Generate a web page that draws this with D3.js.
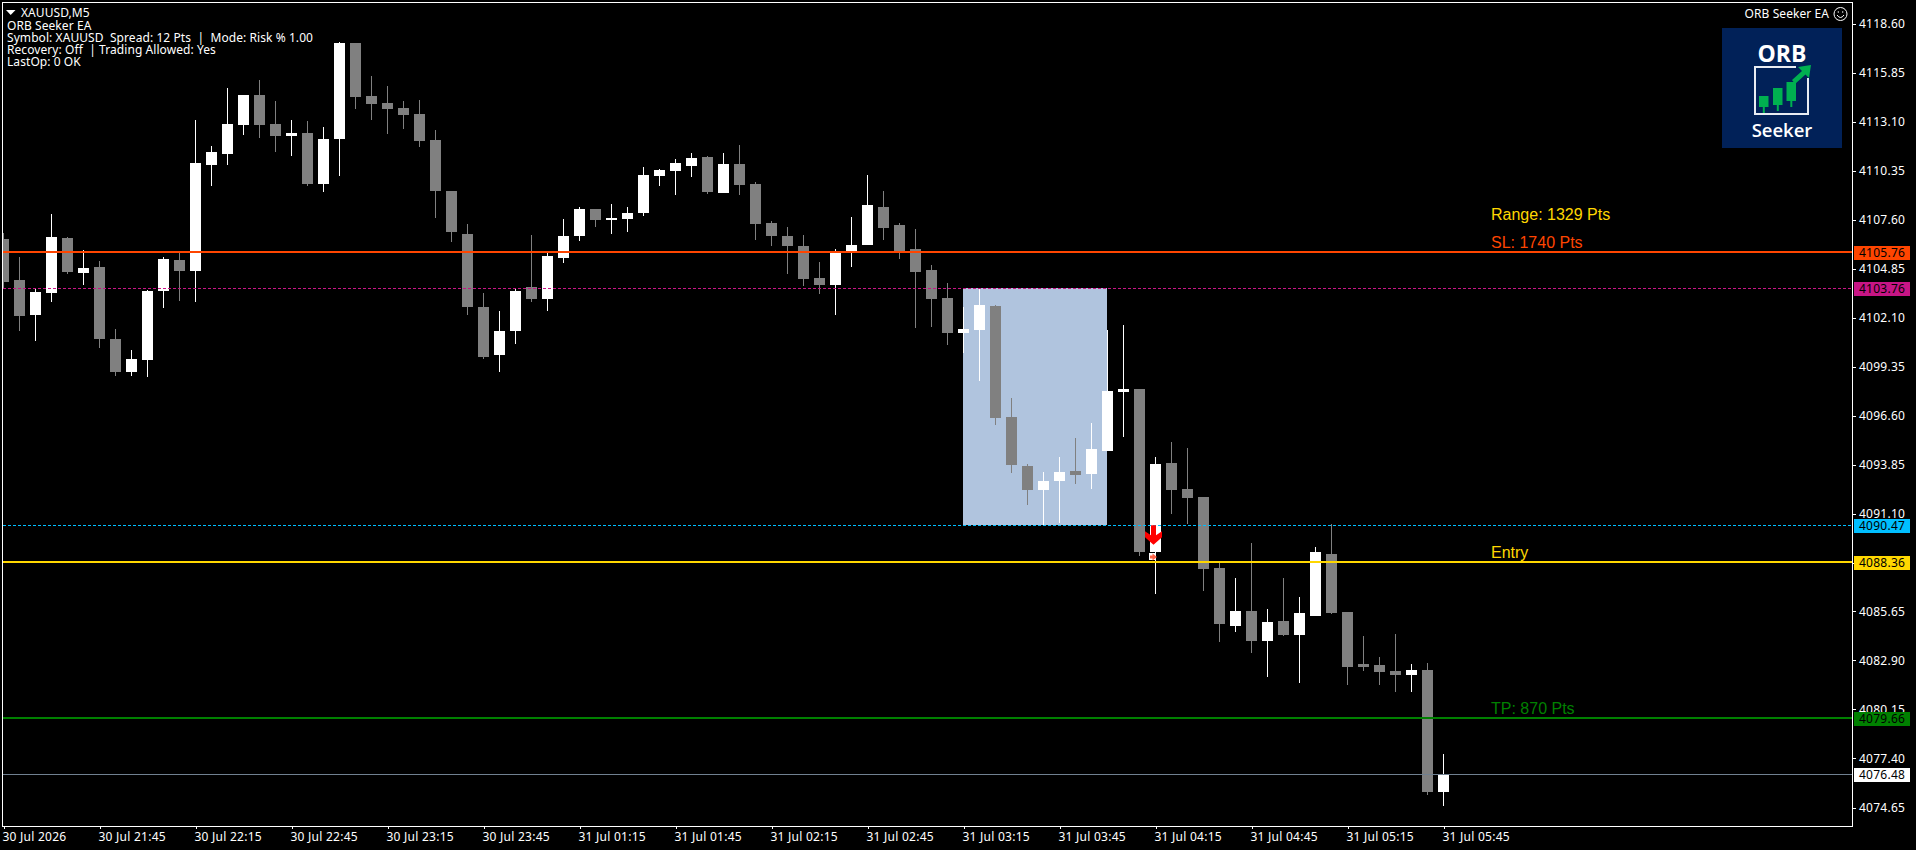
<!DOCTYPE html>
<html>
<head>
<meta charset="utf-8">
<script src="https://cdn.jsdelivr.net/npm/d3@7"></script>
<style>
html,body{margin:0;padding:0;background:#000;overflow:hidden}
svg{display:block;position:absolute;left:0;top:0}
.ui{font-family:"Noto Sans","DejaVu Sans",sans-serif;font-size:12px;fill:#fff;letter-spacing:.07px}
.ax{letter-spacing:.25px}
.lv{font-family:"Liberation Sans",Arial,sans-serif;font-size:16px}
</style>
</head>
<body>
<script>
const opens = [4106.50,4104.22,4102.26,4103.49,4106.58,4104.62,4104.95,4100.92,4099.07,4099.74,4103.61,4105.34,4104.73,4110.67,4111.29,4112.91,4114.59,4112.97,4112.29,4112.46,4109.60,4112.13,4117.51,4114.54,4114.14,4113.86,4113.53,4112.07,4109.21,4106.80,
4102.71,4100.02,4101.36,4103.83,4103.16,4105.46,4106.69,4108.20,4107.59,4107.64,4107.98,4110.05,4110.33,4110.61,4111.12,4109.10,4110.72,4109.60,4107.42,4106.69,4106.13,4104.33,4103.94,4105.85,4106.18,4108.31,4107.30,4105.96,4104.78,4103.21,
4101.25,4101.42,4102.77,4096.54,4093.80,4092.45,4092.96,4093.52,4093.35,4094.64,4097.94,4098.11,4088.98,4093.96,4092.51,4092.06,4088.08,4084.83,4085.67,4083.99,4085.11,4084.32,4085.39,4088.86,4085.61,4082.70,4082.64,4082.31,4082.08,4082.36,4075.52];
const highs = [4106.84,4105.49,4103.70,4107.92,4106.63,4105.90,4105.29,4101.48,4100.30,4103.66,4105.51,4105.74,4113.19,4111.73,4114.99,4114.59,4115.43,4114.26,4113.19,4113.14,4112.80,4117.56,4117.51,4115.66,4115.10,4114.26,4114.31,4112.63,4109.21,4107.36,
4103.49,4102.48,4103.72,4106.74,4105.74,4107.64,4108.31,4108.20,4108.48,4108.31,4110.56,4110.44,4111.00,4111.34,4111.17,4111.34,4111.79,4109.72,4107.53,4107.19,4106.74,4105.23,4105.96,4107.75,4110.11,4109.21,4107.42,4107.08,4105.06,4104.05,
4102.71,4103.76,4102.82,4097.61,4093.91,4093.46,4094.30,4095.37,4096.21,4101.42,4101.70,4098.11,4094.30,4095.14,4094.81,4092.06,4088.36,4087.52,4089.48,4085.78,4087.52,4086.45,4089.26,4090.55,4085.61,4084.27,4083.09,4084.38,4082.70,4082.75,4077.65];
const lows = [4103.76,4101.36,4100.80,4102.99,4104.56,4103.94,4100.41,4098.84,4098.84,4098.79,4102.65,4103.05,4102.99,4109.49,4110.67,4112.35,4112.18,4111.40,4111.17,4109.49,4109.16,4110.05,4113.81,4113.19,4112.41,4112.69,4111.68,4107.70,4106.35,4102.26,
4099.79,4099.07,4100.63,4102.99,4102.48,4105.18,4106.41,4107.19,4106.80,4106.91,4107.81,4109.49,4108.99,4109.99,4109.04,4109.10,4108.99,4106.46,4106.13,4104.56,4103.89,4103.44,4102.26,4104.95,4106.18,4106.46,4105.40,4101.53,4101.59,4100.58,
4100.13,4098.56,4096.09,4093.40,4091.61,4090.49,4090.60,4092.79,4092.51,4094.64,4095.42,4088.75,4086.62,4091.11,4090.55,4086.79,4083.93,4084.49,4083.31,4081.97,4084.27,4081.63,4085.39,4085.50,4081.52,4082.31,4081.52,4081.13,4081.13,4075.35,4074.74];
const closes = [4104.13,4102.20,4103.55,4106.63,4104.67,4104.90,4100.92,4099.07,4099.79,4103.61,4105.40,4104.73,4110.78,4111.40,4112.97,4114.59,4112.91,4112.29,4112.46,4109.60,4112.13,4117.51,4114.48,4114.09,4113.81,4113.47,4112.01,4109.21,4106.91,4102.71,
4099.91,4101.36,4103.61,4103.16,4105.57,4106.69,4108.20,4107.59,4107.70,4107.98,4110.11,4110.39,4110.78,4111.06,4109.15,4110.72,4109.55,4107.36,4106.69,4106.13,4104.28,4103.94,4105.79,4106.18,4108.43,4107.14,4105.79,4104.67,4103.16,4101.25,
4101.48,4102.82,4096.49,4093.85,4092.45,4092.96,4093.46,4093.29,4094.75,4098.00,4098.11,4088.98,4093.91,4092.45,4092.00,4088.02,4084.94,4085.67,4083.99,4085.05,4084.32,4085.56,4088.98,4085.56,4082.53,4082.53,4082.25,4082.08,4082.36,4075.52,4076.53];

const priceTicks = [4118.60,4115.85,4113.10,4110.35,4107.60,4104.85,4102.10,4099.35,4096.60,4093.85,4091.10,4088.35,4085.65,4082.90,4080.15,4077.40,4074.65];
const timeTickBars = [0,6,12,18,24,30,36,42,48,54,60,66,72,78,84,90];
const timeTickLabels = ["30 Jul 2026","30 Jul 21:45","30 Jul 22:15","30 Jul 22:45","30 Jul 23:15","30 Jul 23:45","31 Jul 01:15","31 Jul 01:45","31 Jul 02:15","31 Jul 02:45","31 Jul 03:15","31 Jul 03:45","31 Jul 04:15","31 Jul 04:45","31 Jul 05:15","31 Jul 05:45"];

const levelPrices = [4105.76,4103.76,4090.47,4088.36,4079.66,4076.48];
const levelColors = ["#FF4500","#C71585","#00BFFF","#FFD700","#008000","#708090"];
const levelBoxColors = ["#FF4500","#C71585","#00BFFF","#FFD700","#008000","#FFFFFF"];
const levelWidths = [2,1,1,2,2,1];
const levelDashed = [false,true,true,false,false,false];

const levelTexts = ["Range: 1329 Pts","SL: 1740 Pts","Entry","TP: 870 Pts"];
const levelTextPrices = [4107.33,4105.76,4088.36,4079.66];
const levelTextColors = ["#FFD700","#FF4500","#FFD700","#008000"];

const infoLines = ["ORB Seeker EA","Symbol: XAUUSD  Spread: 12 Pts  |  Mode: Risk % 1.00","Recovery: Off  | Trading Allowed: Yes","LastOp: 0 OK"];
const rangeStartBar = 60, rangeEndBar = 69, rangeHigh = 4103.76, rangeLow = 4090.47;
const entryBar = 72;

const W = 1916, H = 850, L = 3, R = 1852, T = 3, B = 826;
const x = d3.scaleLinear().domain([0,90]).range([3.5,1443.5]);
const y = d3.scaleLinear().domain([4118.60,4074.65]).range([23.5,807.5]);
const py = v => Math.round(y(v));
const fy = v => Math.floor(y(v));

const svg = d3.select("body").append("svg").attr("width",W).attr("height",H).style("background","#000");
svg.append("defs").append("clipPath").attr("id","plot").append("rect").attr("x",L).attr("y",T).attr("width",R-L).attr("height",B-T);
const plot = svg.append("g").attr("clip-path","url(#plot)");

// opening-range box
plot.append("rect")
  .attr("x",x(rangeStartBar)-0.5).attr("width",x(rangeEndBar)-x(rangeStartBar))
  .attr("y",py(rangeHigh)).attr("height",py(rangeLow)-py(rangeHigh))
  .attr("fill","#B0C4DE").attr("shape-rendering","crispEdges");

// candles
const bars = d3.range(opens.length);
const col = i => closes[i] >= opens[i] ? "#FFFFFF" : "#808080";
const cg = plot.append("g").attr("shape-rendering","crispEdges");
cg.selectAll("rect.w").data(bars).join("rect").attr("class","w")
  .attr("x",i=>x(i)-0.5).attr("width",1)
  .attr("y",i=>py(highs[i])).attr("height",i=>Math.max(1,py(lows[i])-py(highs[i])))
  .attr("fill",col);
cg.selectAll("rect.b").data(bars).join("rect").attr("class","b")
  .attr("x",i=>x(i)-5.5).attr("width",11)
  .attr("y",i=>py(Math.max(opens[i],closes[i])))
  .attr("height",i=>Math.max(1,py(Math.min(opens[i],closes[i]))-py(Math.max(opens[i],closes[i]))))
  .attr("fill",col);

// axes
const yAxis = d3.axisRight(y).tickValues(priceTicks).tickSize(4).tickPadding(3).tickFormat(d3.format(".2f"));
const ya = svg.append("g").attr("transform",`translate(${R},0)`).call(yAxis);
ya.select(".domain").remove();
ya.selectAll("line").attr("stroke","#fff").attr("shape-rendering","crispEdges");
ya.selectAll("text").attr("class","ui ax").style("fill","#fff");

const xAxis = d3.axisBottom(x).tickValues(timeTickBars).tickSize(3).tickPadding(3).tickFormat((d,i)=>timeTickLabels[i]);
const xa = svg.append("g").attr("transform",`translate(0,${B})`).call(xAxis);
xa.select(".domain").remove();
xa.selectAll("line").attr("stroke","#fff").attr("shape-rendering","crispEdges");
xa.selectAll("text").attr("class","ui ax").style("fill","#fff").attr("text-anchor","start").attr("dx",-1.5);

// frame
svg.append("rect").attr("x",2.5).attr("y",2.5).attr("width",R-2).attr("height",B-2)
  .attr("fill","none").attr("stroke","#fff").attr("shape-rendering","crispEdges");

// level lines
plot.append("g").attr("shape-rendering","crispEdges").selectAll("line").data(levelPrices).join("line")
  .attr("x1",L).attr("x2",R)
  .attr("y1",(d,i)=>fy(d)+(levelWidths[i]===1?0.5:0)).attr("y2",(d,i)=>fy(d)+(levelWidths[i]===1?0.5:0))
  .attr("stroke",(d,i)=>levelColors[i])
  .attr("stroke-width",(d,i)=>levelWidths[i])
  .attr("stroke-dasharray",(d,i)=>levelDashed[i]?"3,2":null);

// level boxes
const lb = svg.append("g").selectAll("g").data(levelPrices).join("g")
  .attr("transform",d=>`translate(1854,${fy(d)-6})`);
lb.append("rect").attr("width",56).attr("height",14).attr("fill",(d,i)=>levelBoxColors[i]).attr("shape-rendering","crispEdges");
lb.append("text").attr("class","ui ax").attr("x",5).attr("y",11).style("fill","#000").text(d=>d.toFixed(2));

// level captions
svg.append("g").selectAll("text").data(levelTexts).join("text")
  .attr("class","lv").attr("x",1491)
  .attr("y",(d,i)=>fy(levelTextPrices[i])-4)
  .attr("fill",(d,i)=>levelTextColors[i]).text(d=>d);

// entry arrow + marker
const ax = x(entryBar)-2, ay = y(rangeLow);
svg.append("path").attr("fill","#FF0000")
  .attr("d",`M${ax-2.5},${ay} H${ax+2.5} V${ay+10} L${ax+8.5},${ay+6} V${ay+12} L${ax},${ay+19.5} L${ax-8.5},${ay+12} V${ay+6} L${ax-2.5},${ay+10} Z`);
const mx = x(entryBar)-3, my = y(levelPrices[3])-6;
svg.append("rect").attr("x",mx-3.5).attr("y",my-3.5).attr("width",7).attr("height",7).attr("fill","#fff").attr("shape-rendering","crispEdges");
svg.append("path").attr("fill","#FF6347").attr("d",`M${mx-2.5},${my-1.5} H${mx} V${my-3.5} L${mx+4.5},${my} L${mx},${my+3.5} V${my+1.5} H${mx-2.5} Z`);

// info block
svg.append("path").attr("fill","#fff").attr("d","M6,10 H15.5 L10.7,15 Z");
svg.append("text").attr("class","ui").attr("x",21).attr("y",17).text("XAUUSD,M5");
svg.append("g").selectAll("text").data(infoLines).join("text")
  .attr("class","ui").attr("x",7).attr("y",(d,i)=>30+i*12).attr("xml:space","preserve").style("white-space","pre").text(d=>d);

// top-right
svg.append("text").attr("class","ui").attr("x",1829).attr("y",18).attr("text-anchor","end").text("ORB Seeker EA");
const sm = svg.append("g").attr("transform","translate(1840.5,14)").attr("fill","none").attr("stroke","#fff");
sm.append("circle").attr("r",6.5);
sm.append("path").attr("d","M-3.5,1 Q0,6 3.5,1");
sm.append("circle").attr("cx",-2.2).attr("cy",-2).attr("r",.7).attr("fill","#fff").attr("stroke","none");
sm.append("circle").attr("cx",2.2).attr("cy",-2).attr("r",.7).attr("fill","#fff").attr("stroke","none");

// logo
const lg = svg.append("g").attr("transform","translate(1722,28)");
lg.append("rect").attr("width",120).attr("height",120).attr("fill","#012158");
lg.append("text").attr("x",60).attr("y",34).attr("text-anchor","middle").attr("fill","#fff")
  .style("font","bold 23px 'Open Sans',sans-serif").text("ORB");
lg.append("path").attr("fill","none").attr("stroke","#E8ECF2").attr("stroke-width",2)
  .attr("d","M74,39 H33 V86 H86 V50");
lg.selectAll("g.c").data([[41.5,68,85],[55.5,60,83],[69,54,79]]).join("g").each(function(d){
  const g=d3.select(this), cx=d[0];
  g.append("rect").attr("x",cx-4.5).attr("y",d[1]).attr("width",9.5).attr("height",d[2]-d[1]-6).attr("fill","#00B050");
  g.append("rect").attr("x",cx-0.7).attr("y",d[2]-7).attr("width",2).attr("height",7).attr("fill","#00B050");
});
lg.append("path").attr("fill","#00B050").attr("d","M70,52 L80,43 L76,39 L89,37 L87,50 L83.5,46.5 L73,56 Z");
lg.append("text").attr("x",60).attr("y",109).attr("text-anchor","middle").attr("fill","#fff")
  .style("font","600 18.5px 'Open Sans',sans-serif").text("Seeker");
</script>
</body>
</html>
